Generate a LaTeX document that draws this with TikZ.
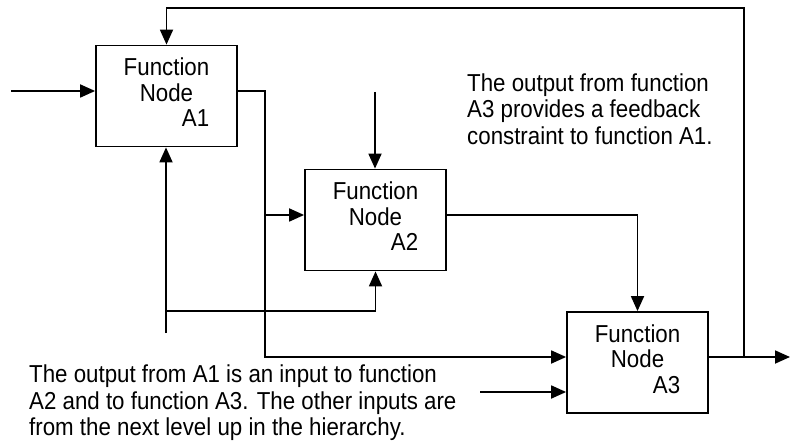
\documentclass[tikz,border=0pt]{standalone}
\usepackage{fontspec}
\setmainfont{Liberation Sans}[FakeStretch=0.91]
\usetikzlibrary{arrows.meta, positioning, calc}

% box label: "Function / Node" centred, the number flush right
\newcommand{\fnlabel}[1]{\begin{tabular}{@{}c@{}}Function\\Node\\\hfill #1\end{tabular}}

\begin{document}
\begin{tikzpicture}[
    x=1pt, y=-1pt,
    fnbox/.style={draw, rectangle, line width=1.8pt, minimum width=141pt, minimum height=101pt, inner sep=0pt, align=center, font=\fontsize{24.5}{25.5}\selectfont},
    arrow/.style={-{Triangle[length=15pt, width=13pt]}, line width=1.8pt},
    note/.style={anchor=north west, inner sep=0pt, align=left, font=\fontsize{24.5}{26.5}\selectfont}
]
\useasboundingbox (0,0) rectangle (791,443);

% Function nodes
\node[fnbox] (a1) at (166.5,96) {\fnlabel{A1}};
\node[fnbox] (a2) at (375.5,220) {\fnlabel{A2}};
\node[fnbox] (a3) at (637.5,362.5) {\fnlabel{A3}};

% Free ends and junctions
\coordinate (in1) at (11,91);
\coordinate (ctl2) at (375,92);
\coordinate (mech1) at (166,333);
\coordinate (j2) at (166,311);
\coordinate (j1) at (265,215);
\coordinate (in3) at (480,392);
\coordinate (fb) at (744,357);
\coordinate (fbtop) at (744,8);
\coordinate (out) at (790,357);

% Connections
\draw[arrow] (in1) -- (in1 -| a1.west);
\draw[arrow] (a1.east |- in1) -| (j1) |- (a3.west |- out);
\draw[arrow] (j1) -- (j1 -| a2.west);
\draw[arrow] (ctl2) -- (ctl2 |- a2.north);
\draw[arrow] (mech1) -- (mech1 |- a1.south);
\draw[arrow] (j2) -| (a2.south);
\draw[arrow] (a2.east |- j1) -| (a3.north);
\draw[arrow] (in3) -- (in3 -| a3.west);
\draw[arrow] (a3.east |- out) -- (out);
\draw[arrow] (fb) -- (fbtop) -| (a1.north);

% Notes
\node[note] (fbnote) at (467,73.5) {The output from function\\A3 provides a feedback\\constraint to function A1.};
\node[note] (innote) at (29,365) {The output from A1 is an input to function\\A2 and to function A3. The other inputs are\\from the next level up in the hierarchy.};

\end{tikzpicture}
\end{document}
